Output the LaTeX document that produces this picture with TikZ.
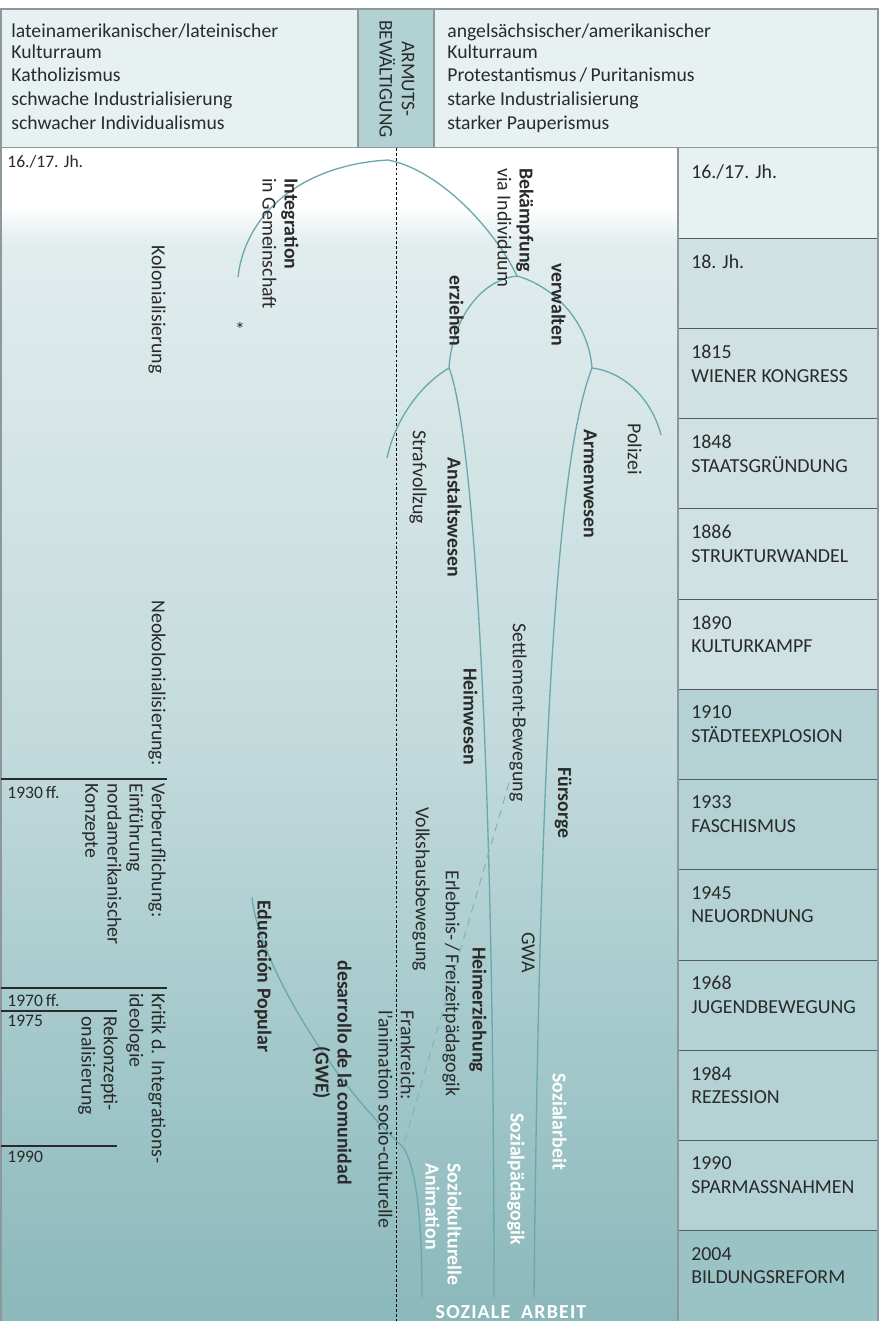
\documentclass[tikz,border=0pt]{standalone}
\usepackage{fontspec}
\setmainfont{Carlito}
\newfontfamily\spacedfont[LetterSpace=6]{Carlito}
\usepackage{tikz}

\definecolor{hdrfill}{HTML}{E8F1F2}
\definecolor{armfill}{HTML}{B2D1D3}
\definecolor{eraA}{HTML}{E8F1F2}
\definecolor{eraB}{HTML}{CFE1E3}
\definecolor{eraC}{HTML}{B4D2D4}
\definecolor{eraD}{HTML}{9AC3C6}
\definecolor{bgA}{HTML}{E1ECED}
\definecolor{bgB}{HTML}{C2DADB}
\definecolor{bgC}{HTML}{A3C8CA}
\definecolor{bgD}{HTML}{8BB8BB}
\definecolor{branchcol}{HTML}{6AA8AD}
\definecolor{framegray}{HTML}{8C9899}
\definecolor{sepgray}{HTML}{555B5C}
\definecolor{txtcol}{HTML}{2A2A2A}

\begin{document}
\begin{tikzpicture}[x=0.02cm, y=-0.02cm,
			frame/.style={draw=framegray, line width=0.6pt},
			sepline/.style={draw=sepgray, line width=0.6pt},
			periodline/.style={draw=txtcol, line width=0.6pt},
			branch/.style={draw=branchcol, line width=0.75pt},
			settledash/.style={draw=branchcol!85!white, line width=0.6pt, dash pattern=on 4.5pt off 3.5pt},
			axisline/.style={draw=black, line width=0.5pt, dash pattern=on 1.6pt off 1.2pt},
			hdrtext/.style={anchor=north west, inner sep=0pt, align=left, text=txtcol, font=\fontsize{11.2}{12}\selectfont},
			eralabel/.style={anchor=north west, inner sep=0pt, align=left, text=txtcol, font=\fontsize{11.3}{13.5}\selectfont},
			yearlabel/.style={anchor=north west, inner sep=0pt, text=txtcol, font=\fontsize{10}{12}\selectfont},
			vtext/.style={rotate=-90, anchor=north west, inner sep=0pt, align=left, text=txtcol, font=\fontsize{11.3}{12.6}\selectfont},
			vbold/.style={vtext, font=\fontsize{11.3}{12.6}\selectfont\bfseries},
			vwhite/.style={vbold, text=white}]
	\useasboundingbox (0,0) rectangle (880,1321);
	\fill[white] (0,0) rectangle (880,1321);

	\draw[frame, fill=hdrfill] (1,9) rectangle (878,148);
	\draw[frame, fill=armfill] (358,9) rectangle (434,148);
	\node[hdrtext] (hdrleft) at (11,23) {lateinamerikanischer/lateinischer\\Kulturraum\\[1.6pt]Katholizismus\\[1.6pt]schwache Industrialisierung\\[1.6pt]schwacher Individualismus};
	\node[hdrtext] (hdrright) at (447,23) {angelsächsischer/amerikanischer\\Kulturraum\\[1.6pt]Protestantismus\,/\,Puritanismus\\[1.6pt]starke Industrialisierung\\[1.6pt]starker Pauperismus};
	\node[rotate=-90, inner sep=0pt, align=center, text=txtcol, font=\fontsize{11}{12.6}\selectfont] (armut) at (397,79) {ARMUTS-\\BEWÄLTIGUNG};

	\fill[white] (1,148) rectangle (678,206);
	\shade[top color=white, bottom color=bgA] (1,205.5) rectangle (678,245.5);
	\shade[top color=bgA, bottom color=bgB] (1,245) rectangle (678,750.5);
	\shade[top color=bgB, bottom color=bgC] (1,750) rectangle (678,1050.5);
	\shade[top color=bgC, bottom color=bgD] (1,1050) rectangle (678,1321);

	\foreach \col [count=\i from 0] in {eraA,eraB,eraB,eraB,eraB,eraB,eraC,eraC,eraC,eraC,eraC,eraC,eraD} {
		\pgfmathsetmacro\yt{148+\i*90.23}
		\fill[\col] (678,\yt) rectangle (878,\yt+90.5);
	}
	\foreach \i in {1,...,12} {
		\pgfmathsetmacro\yt{148+\i*90.23}
		\draw[sepline] (678,\yt) -- (878,\yt);
	}
	\foreach \lbl [count=\i from 0] in {16./17. Jh., 18. Jh., {1815\\WIENER KONGRESS}, {1848\\STAATSGRÜNDUNG}, {1886\\STRUKTURWANDEL}, {1890\\KULTURKAMPF}, {1910\\STÄDTEEXPLOSION}, {1933\\FASCHISMUS}, {1945\\NEUORDNUNG}, {1968\\JUGENDBEWEGUNG}, {1984\\REZESSION}, {1990\\SPARMASSNAHMEN}, {2004\\BILDUNGSREFORM}} {
		\pgfmathsetmacro\yt{148+\i*90.23}
		\node[eralabel] (era\i) at (691,\yt+16) {\lbl};
	}
	\draw[frame] (1,148) -- (1,1321);
	\draw[frame] (678,148) -- (678,1321);
	\draw[frame] (878,148) -- (878,1321);

	\coordinate (axtop) at (396,148);
	\coordinate (axbot) at (396,1321);
	\draw[axisline] (axtop) -- (axbot);

	\coordinate (p1930a) at (1,779);
	\coordinate (p1930b) at (167,779);
	\coordinate (p1970a) at (1,988);
	\coordinate (p1970b) at (167,988);
	\coordinate (p1975a) at (1,1011);
	\coordinate (p1975b) at (117,1011);
	\coordinate (p1990a) at (1,1146);
	\coordinate (p1990b) at (117,1146);
	\draw[periodline] (p1930a) -- (p1930b);
	\draw[periodline] (p1970a) -- (p1970b);
	\draw[periodline] (p1975a) -- (p1975b);
	\draw[periodline] (p1990a) -- (p1990b);
	\node[yearlabel] (y1600) at (7,155) {16./17. Jh.};
	\node[yearlabel] (y1930) at (7,786) {1930\,ff.};
	\node[yearlabel] (y1970) at (7,994) {1970\,ff.};
	\node[yearlabel] (y1975) at (7,1015) {1975};
	\node[yearlabel] (y1990) at (7,1151) {1990};

	\coordinate (intL) at (238,277);
	\coordinate (archtop) at (388,160);
	\coordinate (bekJ) at (517,276);
	\coordinate (erzJ) at (449,368);
	\coordinate (verJ) at (592,368);
	\coordinate (strafE) at (387,458);
	\coordinate (polE) at (661,435);
	\coordinate (paedE) at (494,1297);
	\coordinate (arbE) at (534,1297);
	\coordinate (eduS) at (252,897);
	\coordinate (animJ) at (403,1147);
	\coordinate (animE) at (422,1297);
	\coordinate (settS) at (509,783);
	\draw[branch] (intL) .. controls (245,215) and (300,165) .. (archtop) .. controls (440,170) and (495,230) .. (bekJ);
	\draw[branch] (erzJ) .. controls (452,320) and (480,280) .. (bekJ) .. controls (550,285) and (588,318) .. (verJ);
	\draw[branch] (erzJ) .. controls (420,385) and (395,420) .. (strafE);
	\draw[branch] (erzJ) .. controls (470,420) and (494,700) .. (paedE);
	\draw[branch] (verJ) .. controls (625,372) and (652,400) .. (polE);
	\draw[branch] (verJ) .. controls (560,450) and (540,700) .. (arbE);
	\draw[branch] (eduS) .. controls (258,960) and (330,1080) .. (animJ) .. controls (418,1170) and (422,1230) .. (animE);
	\draw[settledash] (settS) -- (animJ);

	\node[vtext] (integ) at (299,178) {\textbf{Integration}\\in Gemeinschaft};
	\node[vtext] (kolon) at (166,245) {Kolonialisierung};
	\node[inner sep=0pt, text=txtcol, font=\fontsize{11.3}{12.6}\selectfont] (star) at (240,329) {*};
	\node[vtext] (bekaempf) at (534,168) {\textbf{Bekämpfung}\\via Individuum};
	\node[vbold] (erziehen) at (464,275) {erziehen};
	\node[vbold] (verwalten) at (566,263) {verwalten};
	\node[vtext] (strafv) at (427,430) {Strafvollzug};
	\node[vbold] (anstalt) at (462,457) {Anstaltswesen};
	\node[vbold] (armen) at (597,429) {Armenwesen};
	\node[vtext] (polizei) at (642,423) {Polizei};
	\node[vtext] (settle) at (527,623) {Settlement-Bewegung};
	\node[vbold] (heimw) at (478,668) {Heimwesen};
	\node[vbold] (fuers) at (572,767) {Fürsorge};
	\node[vtext] (neokol) at (166,600) {Neokolonialisierung:};
	\node[vtext] (verberuf) at (166,783) {Verberuflichung:\\Einführung\\nordamerikanischer\\Konzepte};
	\node[vtext] (kritik) at (166,993) {Kritik d. Integrations-\\ideologie};
	\node[vtext] (rekonz) at (118,1016) {Rekonzepti-\\onalisierung};
	\node[vbold] (educ) at (272,900) {Educación Popular};
	\node[vbold, align=center] (desarr) at (352,960) {desarrollo de la comunidad\\(GWE)};
	\node[vtext] (volksh) at (430,807) {Volkshausbewegung};
	\node[vtext] (erlebnis) at (460,870) {Erlebnis-\,/\,Freizeitpädagogik};
	\node[vbold] (heimerz) at (487,947) {Heimerziehung};
	\node[vtext] (gwa) at (535,932) {GWA};
	\node[vtext] (frankr) at (415,1010) {Frankreich:\\l’animation socio-culturelle};
	\node[vwhite] (sozarb) at (567,1073) {Sozialarbeit};
	\node[vwhite] (sozpaed) at (525,1113) {Sozialpädagogik};
	\node[vwhite] (soziok) at (462,1163) {Soziokulturelle\\Animation};
	\node[inner sep=0pt, text=white, font=\spacedfont\fontsize{11.3}{12.6}\selectfont\bfseries] (sozart) at (511,1312) {SOZIALE\hspace{3pt} ARBEIT};
\end{tikzpicture}
\end{document}
